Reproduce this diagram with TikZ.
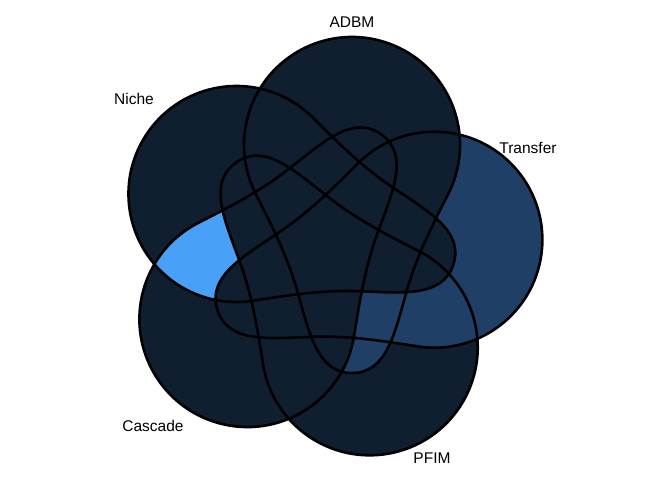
\documentclass[tikz,border=0pt]{standalone}
\usepackage{fontspec}
\setmainfont{Liberation Sans}
\definecolor{setdark}{HTML}{101F30}
\definecolor{setmid}{HTML}{1F3F67}
\definecolor{setlight}{HTML}{48A1F6}
\tikzset{
  setedge/.style={draw=black, line width=2.6pt, line join=round},
  setlabel/.style={font=\fontsize{15.5}{18}\selectfont, inner sep=0pt}
}
% one set: a circle with a lobe reaching across the middle
\newcommand{\setpath}{(-72.2,55) arc[start angle=207, end angle=-27, radius=108]
  .. controls (104.3,23.8) and (88.6,-7.4) .. (79,-41)
  .. controls (66.6,-84.2) and (59,-124) .. (24,-124)
  .. controls (-11,-124) and (-18.6,-84.2) .. (-31,-41)
  .. controls (-40.6,-7.4) and (-56.3,23.8) .. (-72.2,55) -- cycle}
\begin{document}
\begin{tikzpicture}[x=1pt, y=1pt]
\useasboundingbox (0,0) rectangle (672,480);
\begin{scope}[shift={(328,231)}]
% base colour
\foreach \a in {0,72,...,288} \fill[setdark, rotate=\a] \setpath;
% Transfer
\fill[setmid, rotate=288] \setpath;
% ADBM and Transfer
\begin{scope}
\clip \setpath;
\fill[setdark, rotate=288] \setpath;
\end{scope}
% ADBM and PFIM
\begin{scope}
\clip \setpath;
\fill[setmid, rotate=216] \setpath;
\end{scope}
% Niche, Cascade
\fill[setdark, rotate=72] \setpath;
\fill[setdark, rotate=144] \setpath;
% Niche and Cascade only
\begin{scope}
\clip[rotate=72] \setpath;
\clip[rotate=144] \setpath;
\fill[setlight] (-400,-400) rectangle (400,400);
\foreach \a in {0,216,288} \fill[setdark, rotate=\a] \setpath;
\end{scope}
% outlines
\foreach \a in {0,72,...,288} \draw[setedge, rotate=\a] \setpath;
\end{scope}
\node[setlabel] (adbm) at (352,458) {ADBM};
\node[setlabel] (niche) at (134,381) {Niche};
\node[setlabel] (transfer) at (528,332) {Transfer};
\node[setlabel] (cascade) at (153,54) {Cascade};
\node[setlabel] (pfim) at (432,22) {PFIM};
\end{tikzpicture}
\end{document}
